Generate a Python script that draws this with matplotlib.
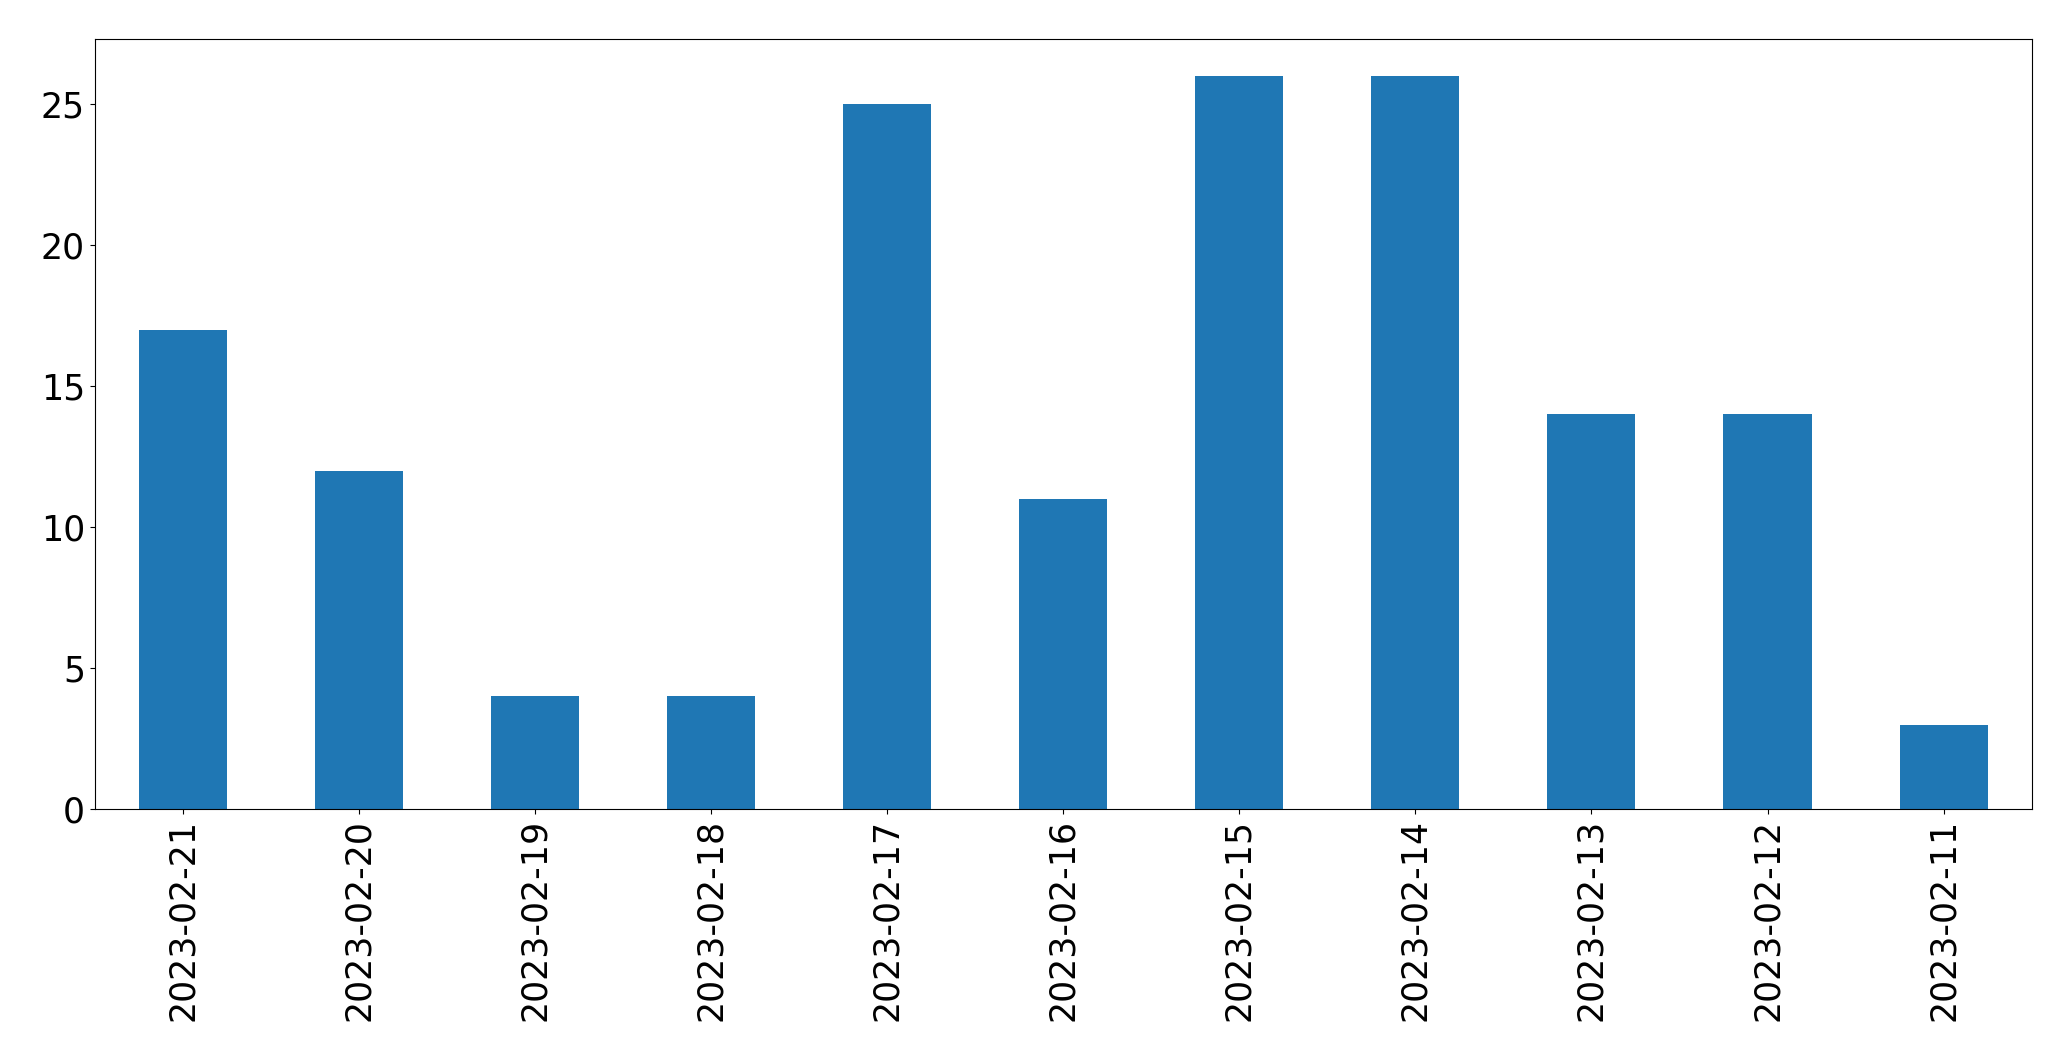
import matplotlib
matplotlib.use('Agg')
import matplotlib.pyplot as plt
import numpy as np

dates = ['2023-02-21', '2023-02-20', '2023-02-19', '2023-02-18', '2023-02-17',
         '2023-02-16', '2023-02-15', '2023-02-14', '2023-02-13', '2023-02-12',
         '2023-02-11']
counts = [17, 12, 4, 4, 25, 11, 26, 26, 14, 14, 3]

fig = plt.figure(figsize=(20.71, 10.61), dpi=100)
ax = fig.add_axes([0.0457, 0.2372, 0.9353, 0.7258])

index = np.arange(len(dates))
ax.bar(index, counts, 0.5, color='#1f77b4')

ax.set_xlim(-0.5, len(dates) - 0.5)
ax.set_ylim(0, max(counts) * 1.05)
ax.set_xticks(index)
ax.set_xticklabels(dates, rotation=90, fontsize=25)
ax.set_yticks([0, 5, 10, 15, 20, 25])
ax.tick_params(axis='y', labelsize=25)

fig.savefig('out.png', dpi=100)
